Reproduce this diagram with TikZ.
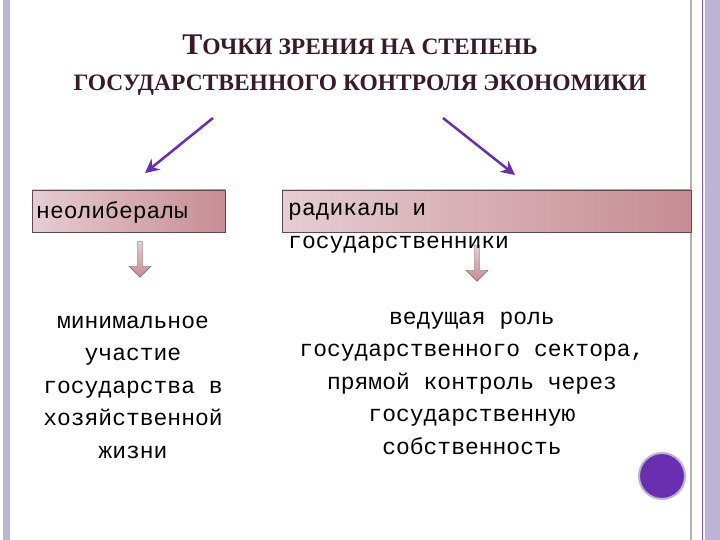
\documentclass[tikz,border=0pt]{standalone}
\usepackage{fontspec}
\setmainfont{Liberation Serif}
\newfontfamily\monof{Liberation Mono}
\usetikzlibrary{shapes.arrows,arrows.meta}
\definecolor{lav}{HTML}{BDB3D3}
\definecolor{purp}{HTML}{6A2FB0}
\definecolor{tit}{HTML}{3A1A2A}
\definecolor{boxl}{HTML}{E6CDD3}
\definecolor{boxr}{HTML}{C78C93}
\tikzset{
 hbox/.style={draw=tit!80,line width=0.8pt,left color=boxl,right color=boxr,inner sep=0pt},
 body/.style={font=\monof\fontsize{23}{32.5}\selectfont,align=center,text=black},
 parrow/.style={draw=purp,line width=2.5pt,-{Stealth[length=14pt,width=14pt]}},
 barrow/.style={single arrow,shape border rotate=270,draw=tit!70,top color=boxl,bottom color=boxr,minimum width=22pt,single arrow head extend=4pt,single arrow tip angle=90,minimum height=36pt,inner sep=1pt}
}
\begin{document}
\begin{tikzpicture}[x=1pt,y=-1pt]
\useasboundingbox (0,0) rectangle (720,540);
\fill[white] (0,0) rectangle (720,540);
\fill[lav] (3,0) rectangle (10,540);
\fill[lav] (705,0) rectangle (720,540);
\draw[gray!60,line width=1.5pt] (691,0) -- (691,540);
\draw[purp!80,line width=1pt] (702,0) -- (702,540);
\node[text=tit,font=\bfseries] (t1) at (360,45) {\fontsize{30}{30}\selectfont Т\fontsize{23.5}{24}\selectfont ОЧКИ ЗРЕНИЯ НА СТЕПЕНЬ};
\node[text=tit,font=\bfseries] (t2) at (360,85) {\fontsize{23.5}{24}\selectfont ГОСУДАРСТВЕННОГО КОНТРОЛЯ ЭКОНОМИКИ};
\coordinate (a1) at (213,118); \coordinate (a2) at (443,118);
\node[hbox,minimum width=193pt,minimum height=42pt] (l) at (128.5,211) {};
\node[body,anchor=west,inner sep=0pt] (ltext) at (36,212) {неолибералы};
\node[hbox,minimum width=409pt,minimum height=42pt] (r) at (486.5,211) {};
\node[body,anchor=west,inner sep=0pt] (rt1) at (288,212) {радикалы и};
\node[barrow] (ba1) at (140,258) {};
\node[barrow] (ba2) at (477,262) {};
\node[body,anchor=west,inner sep=0pt] (rt2) at (288,245) {государственники};
\coordinate (e1) at (145,173); \coordinate (e2) at (515,175);
\draw[parrow] (a1) -- (e1);
\draw[parrow] (a2) -- (e2);
\node[body] (lb) at (133,387) {минимальное\\участие\\государства в\\хозяйственной\\жизни};
\node[body] (rb) at (472,383) {ведущая роль\\государственного сектора,\\прямой контроль через\\государственную\\собственность};
\node[circle,fill=purp,draw=lav,line width=2pt,minimum size=46pt] (c) at (662,476) {};
\end{tikzpicture}
\end{document}
